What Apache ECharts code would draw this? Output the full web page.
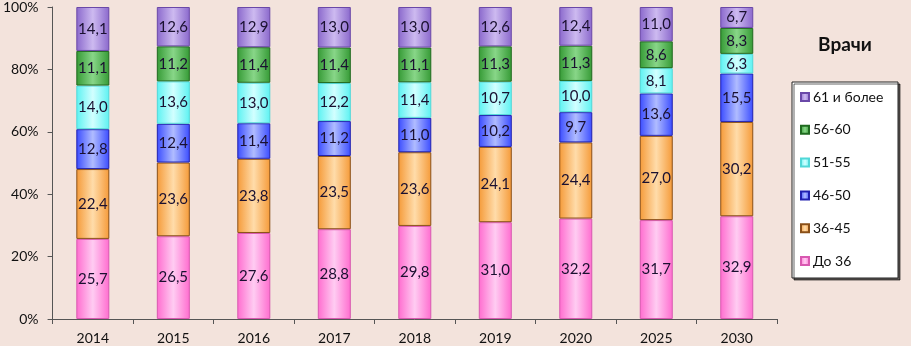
<!DOCTYPE html>
<html>
<head>
<meta charset="utf-8">
<script src="https://cdn.jsdelivr.net/npm/echarts@6/dist/echarts.min.js"></script>
<style>
  html, body { margin: 0; padding: 0; background: #f3e3dc; }
  #chart { width: 911px; height: 346px; }
</style>
</head>
<body>
<div id="chart"></div>
<script>
// годы
const years = ['2014', '2015', '2016', '2017', '2018', '2019', '2020', '2025', '2030']
// доли по возрастным группам, %
const under36 = [25.7, 26.5, 27.6, 28.8, 29.8, 31.0, 32.2, 31.7, 32.9]
const age36_45 = [22.4, 23.6, 23.8, 23.5, 23.6, 24.1, 24.4, 27.0, 30.2]
const age46_50 = [12.8, 12.4, 11.4, 11.2, 11.0, 10.2, 9.7, 13.6, 15.5]
const age51_55 = [14.0, 13.6, 13.0, 12.2, 11.4, 10.7, 10.0, 8.1, 6.3]
const age56_60 = [11.1, 11.2, 11.4, 11.4, 11.1, 11.3, 11.3, 8.6, 8.3]
const age61plus = [14.1, 12.6, 12.9, 13.0, 13.0, 12.6, 12.4, 11.0, 6.7]
const yTicks = [0, 20, 40, 60, 80, 100]

const groups = [
  { name: 'До 36', values: under36, edge: '#ff6ccf', mid: '#ffccf2', border: '#d858b0' },
  { name: '36-45', values: age36_45, edge: '#f59a38', mid: '#ffdcaa', border: '#8a5018' },
  { name: '46-50', values: age46_50, edge: '#3a4cff', mid: '#b0bcff', border: '#2020b0' },
  { name: '51-55', values: age51_55, edge: '#5cf2f2', mid: '#d2ffff', border: '#50d8d8' },
  { name: '56-60', values: age56_60, edge: '#359a35', mid: '#88d688', border: '#1f6a1f' },
  { name: '61 и более', values: age61plus, edge: '#8a68cc', mid: '#cdbaf0', border: '#6a48a8' }
]

// сумма по году, чтобы столбцы были нормированы на 100%
const totals = years.map((y, i) => groups.reduce((s, g) => s + g.values[i], 0))

const chart = echarts.init(document.getElementById('chart'))

const option = {
  backgroundColor: '#f3e3dc',
  textStyle: { fontFamily: 'Lato' },
  title: {
    text: 'Врачи',
    left: 840,
    top: 30,
    textAlign: 'center',
    textStyle: { fontSize: 19, fontWeight: 'bold', color: '#111', fontFamily: 'Lato' }
  },
  graphic: [{
    type: 'rect',
    shape: { x: 792, y: 82, width: 106, height: 196 },
    style: { fill: '#fff', stroke: '#222', lineWidth: 1, shadowBlur: 0, shadowOffsetX: 2, shadowOffsetY: 2, shadowColor: 'rgba(0,0,0,0.6)' },
    z: 0
  }],
  legend: {
    orient: 'vertical',
    left: 800,
    top: 90,
    padding: 0,
    itemGap: 18.8,
    itemWidth: 8,
    itemHeight: 8,
    icon: 'rect',
    data: groups.map(g => g.name).reverse(),
    textStyle: { fontSize: 14, lineHeight: 14, color: '#111', padding: [0, 0, 0, -1] }
  },
  grid: { left: 51, right: 134, top: 7, bottom: 27 },
  xAxis: {
    type: 'category',
    data: years,
    axisLine: { lineStyle: { color: '#555' } },
    axisTick: { show: true, length: 5, lineStyle: { color: '#555' } },
    axisLabel: { fontSize: 14, color: '#111', margin: 12 }
  },
  yAxis: {
    type: 'value',
    min: 0,
    max: 100,
    interval: 20,
    axisLine: { show: true, lineStyle: { color: '#555' } },
    axisTick: { show: true, length: 5, lineStyle: { color: '#555' } },
    splitLine: { show: false },
    axisLabel: {
      fontSize: 14,
      color: '#111',
      margin: 14,
      formatter: v => (yTicks.indexOf(v) >= 0 ? v + '%' : '')
    }
  },
  series: groups.map(g => ({
    name: g.name,
    type: 'bar',
    stack: 'total',
    barWidth: 33,
    data: g.values.map((v, i) => ({ value: v / totals[i] * 100, raw: v })),
    itemStyle: {
      borderColor: g.border,
      borderWidth: 1,
      color: new echarts.graphic.LinearGradient(0, 0, 1, 0, [
        { offset: 0, color: g.edge },
        { offset: 0.5, color: g.mid },
        { offset: 1, color: g.edge }
      ])
    },
    label: {
      show: true,
      position: 'inside',
      fontSize: 15,
      color: '#1a1030',
      formatter: p => p.data.raw.toFixed(1).replace('.', ',')
    }
  }))
}

chart.setOption(option)
</script>
</body>
</html>
